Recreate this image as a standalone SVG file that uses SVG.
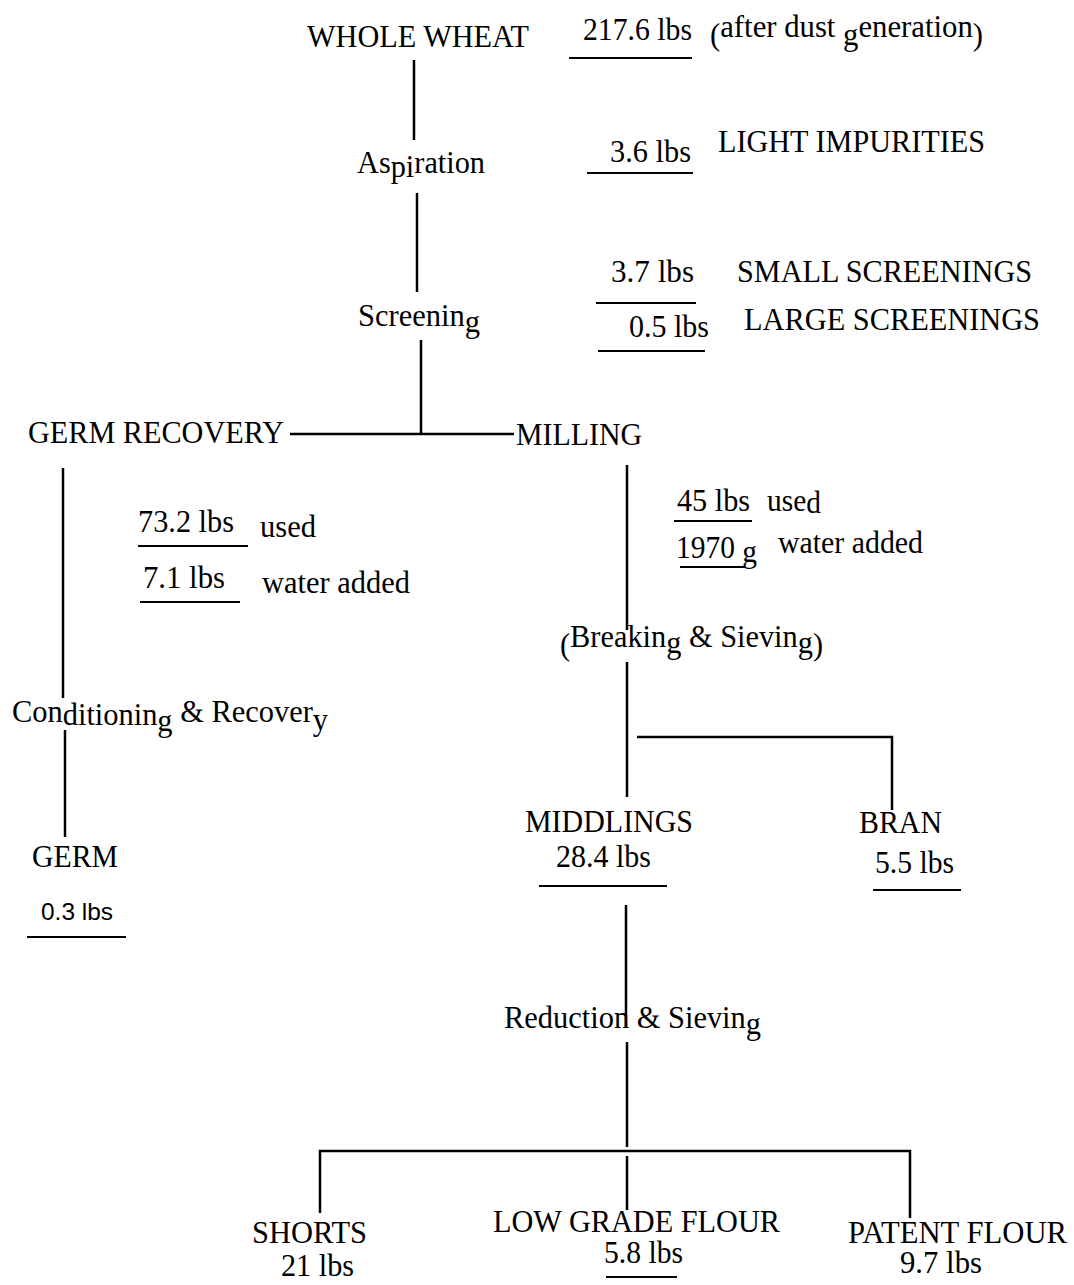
<svg xmlns="http://www.w3.org/2000/svg" width="1074" height="1285" viewBox="0 0 1074 1285">
<style>
  text { font-family: "Liberation Serif", "Times New Roman", serif; font-size: 31px; fill: #000; }
  .sans { font-family: "Liberation Sans", Arial, sans-serif; font-size: 24px; }
  .ul { stroke: #000; stroke-width: 2; fill: none; }
  .conn line, .conn polyline { stroke: #000; stroke-width: 2.5; fill: none; }
</style>
<rect width="1074" height="1285" fill="#fff"/>

<g id="connectors" class="conn">
  <line x1="414" y1="60" x2="414" y2="140"/>
  <line x1="417" y1="193" x2="417" y2="292"/>
  <line x1="421" y1="340" x2="421" y2="434"/>
  <line x1="290" y1="434" x2="514" y2="434"/>
  <line x1="63" y1="468" x2="63" y2="698"/>
  <line x1="65" y1="730" x2="65" y2="837"/>
  <line x1="627" y1="465" x2="627" y2="630"/>
  <line x1="627" y1="662" x2="627" y2="797"/>
  <polyline points="637,737 892,737 892,810"/>
  <line x1="626" y1="905" x2="626" y2="1027"/>
  <line x1="627" y1="1042" x2="627" y2="1147"/>
  <polyline points="320,1213 320,1151 910,1151 910,1218"/>
  <line x1="627" y1="1156" x2="627" y2="1210"/>
</g>

<g id="whole-wheat">
  <text x="307" y="47" textLength="222" lengthAdjust="spacingAndGlyphs">WHOLE WHEAT</text>
  <text x="583" y="40" textLength="109" lengthAdjust="spacingAndGlyphs">217.6 lbs</text>
  <line class="ul" x1="569" y1="58" x2="692" y2="58"/>
  <text x="710" y="37" textLength="273" lengthAdjust="spacingAndGlyphs"><tspan dy="8">(</tspan><tspan dy="-8">after dust </tspan><tspan dy="8">g</tspan><tspan dy="-8">eneration</tspan><tspan dy="8">)</tspan></text>
</g>

<g id="aspiration">
  <text x="357" y="173" textLength="128" lengthAdjust="spacingAndGlyphs">As<tspan dy="4">pi</tspan><tspan dy="-4">ration</tspan></text>
  <text x="610" y="162" textLength="81" lengthAdjust="spacingAndGlyphs">3.6 lbs</text>
  <line class="ul" x1="587" y1="173" x2="693" y2="173"/>
  <text x="718" y="152" textLength="267" lengthAdjust="spacingAndGlyphs">LIGHT IMPURITIES</text>
</g>

<g id="screening">
  <text x="358" y="326" textLength="122" lengthAdjust="spacingAndGlyphs">Screenin<tspan dy="6">g</tspan></text>
  <text x="611" y="282" textLength="83" lengthAdjust="spacingAndGlyphs">3.7 lbs</text>
  <line class="ul" x1="596" y1="303" x2="696" y2="303"/>
  <text x="737" y="282" textLength="295" lengthAdjust="spacingAndGlyphs">SMALL SCREENINGS</text>
  <text x="629" y="337" textLength="80" lengthAdjust="spacingAndGlyphs">0.5 lbs</text>
  <line class="ul" x1="598" y1="351" x2="705" y2="351"/>
  <text x="744" y="330" textLength="296" lengthAdjust="spacingAndGlyphs">LARGE SCREENINGS</text>
</g>

<g id="germ-recovery">
  <text x="28" y="443" textLength="256" lengthAdjust="spacingAndGlyphs">GERM RECOVERY</text>
  <text x="138" y="532" textLength="96" lengthAdjust="spacingAndGlyphs">73.2 lbs</text>
  <line class="ul" x1="138" y1="546" x2="248" y2="546"/>
  <text x="260" y="537" textLength="56" lengthAdjust="spacingAndGlyphs">used</text>
  <text x="143" y="588" textLength="82" lengthAdjust="spacingAndGlyphs">7.1 lbs</text>
  <line class="ul" x1="140" y1="602" x2="240" y2="602"/>
  <text x="262" y="593" textLength="148" lengthAdjust="spacingAndGlyphs">water added</text>
</g>

<g id="milling">
  <text x="516" y="445" textLength="126" lengthAdjust="spacingAndGlyphs">MILLING</text>
  <text x="677" y="511" textLength="73" lengthAdjust="spacingAndGlyphs">45 lbs</text>
  <line class="ul" x1="674" y1="521" x2="752" y2="521"/>
  <text x="767" y="511" textLength="54" lengthAdjust="spacingAndGlyphs">use<tspan dy="2">d</tspan></text>
  <text x="676" y="558" textLength="81" lengthAdjust="spacingAndGlyphs">1970 <tspan dy="4">g</tspan></text>
  <line class="ul" x1="680" y1="567" x2="745" y2="567"/>
  <text x="778" y="553" textLength="145" lengthAdjust="spacingAndGlyphs">water added</text>
</g>

<g id="breaking-sieving">
  <text x="560" y="647" textLength="263" lengthAdjust="spacingAndGlyphs"><tspan dy="8">(</tspan><tspan dy="-8">Breakin</tspan><tspan dy="6">g</tspan><tspan dy="-6"> &amp; Sievin</tspan><tspan dy="6">g</tspan><tspan dy="2">)</tspan></text>
</g>

<g id="conditioning-recovery">
  <text x="12" y="722" textLength="316" lengthAdjust="spacingAndGlyphs">Con<tspan dy="3">ditionin</tspan><tspan dy="6">g</tspan><tspan dy="-9"> &amp; Recover</tspan><tspan dy="8">y</tspan></text>
</g>

<g id="germ">
  <text x="32" y="867" textLength="86" lengthAdjust="spacingAndGlyphs">GERM</text>
  <text class="sans" x="41" y="920" textLength="72" lengthAdjust="spacingAndGlyphs">0.3 lbs</text>
  <line class="ul" x1="27" y1="937" x2="126" y2="937"/>
</g>

<g id="middlings">
  <text x="525" y="832" textLength="168" lengthAdjust="spacingAndGlyphs">MIDDLINGS</text>
  <text x="556" y="867" textLength="95" lengthAdjust="spacingAndGlyphs">28.4 lbs</text>
  <line class="ul" x1="539" y1="886" x2="667" y2="886"/>
</g>

<g id="bran">
  <text x="859" y="833" textLength="83" lengthAdjust="spacingAndGlyphs">BRAN</text>
  <text x="875" y="873" textLength="79" lengthAdjust="spacingAndGlyphs">5.5 lbs</text>
  <line class="ul" x1="873" y1="890" x2="961" y2="890"/>
</g>

<g id="reduction-sieving">
  <text x="504" y="1028" textLength="257" lengthAdjust="spacingAndGlyphs">Reduction &amp; Sievin<tspan dy="6">g</tspan></text>
</g>

<g id="shorts">
  <text x="252" y="1243" textLength="115" lengthAdjust="spacingAndGlyphs">SHORTS</text>
  <text x="281" y="1276" textLength="73" lengthAdjust="spacingAndGlyphs">21 lbs</text>
</g>

<g id="low-grade-flour">
  <text x="493" y="1232" textLength="287" lengthAdjust="spacingAndGlyphs">LOW GRADE FLOUR</text>
  <text x="604" y="1263" textLength="79" lengthAdjust="spacingAndGlyphs">5.8 lbs</text>
  <line class="ul" x1="606" y1="1277" x2="677" y2="1277"/>
</g>

<g id="patent-flour">
  <text x="848" y="1243" textLength="219" lengthAdjust="spacingAndGlyphs">PATENT FLOUR</text>
  <text x="900" y="1273" textLength="82" lengthAdjust="spacingAndGlyphs">9.7 lbs</text>
</g>
</svg>
